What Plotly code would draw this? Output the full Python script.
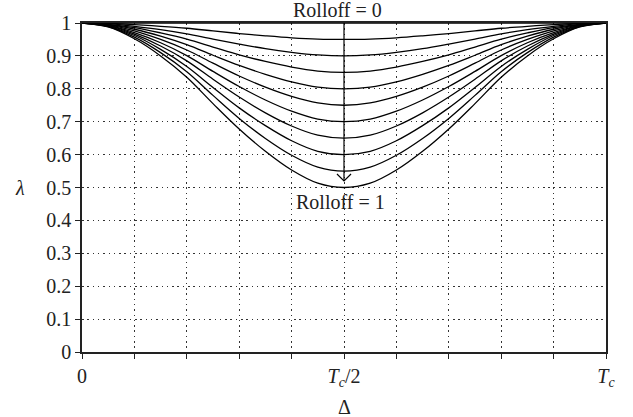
import plotly.graph_objects as go

# delay, in units of Tc
delta = [0.0, 0.05, 0.1, 0.15, 0.2, 0.25, 0.3, 0.35, 0.4, 0.45, 0.5,
         0.55, 0.6, 0.65, 0.7, 0.75, 0.8, 0.85, 0.9, 0.95, 1.0]

rolloffs = [0.0, 0.1, 0.2, 0.3, 0.4, 0.5, 0.6, 0.7, 0.8, 0.9, 1.0]

# lambda, one row per rolloff
lam_r00 = [1.0] * 21
lam_r01 = [1.0, 0.999, 0.995, 0.990, 0.984, 0.976, 0.968, 0.961, 0.955, 0.951, 0.950,
           0.951, 0.955, 0.961, 0.968, 0.976, 0.984, 0.990, 0.995, 0.999, 1.0]
lam_r02 = [1.0, 0.998, 0.990, 0.980, 0.967, 0.951, 0.936, 0.922, 0.911, 0.903, 0.900,
           0.903, 0.911, 0.922, 0.936, 0.951, 0.967, 0.980, 0.990, 0.998, 1.0]
lam_r03 = [1.0, 0.996, 0.986, 0.970, 0.951, 0.927, 0.903, 0.883, 0.866, 0.854, 0.850,
           0.854, 0.866, 0.883, 0.903, 0.927, 0.951, 0.970, 0.986, 0.996, 1.0]
lam_r04 = [1.0, 0.995, 0.981, 0.960, 0.934, 0.902, 0.871, 0.844, 0.821, 0.805, 0.800,
           0.805, 0.821, 0.844, 0.871, 0.902, 0.934, 0.960, 0.981, 0.995, 1.0]
lam_r05 = [1.0, 0.994, 0.976, 0.950, 0.918, 0.878, 0.839, 0.805, 0.777, 0.757, 0.750,
           0.757, 0.777, 0.805, 0.839, 0.878, 0.918, 0.950, 0.976, 0.994, 1.0]
lam_r06 = [1.0, 0.993, 0.971, 0.940, 0.901, 0.853, 0.807, 0.766, 0.732, 0.708, 0.700,
           0.708, 0.732, 0.766, 0.807, 0.853, 0.901, 0.940, 0.971, 0.993, 1.0]
lam_r07 = [1.0, 0.992, 0.966, 0.930, 0.885, 0.829, 0.775, 0.727, 0.687, 0.659, 0.650,
           0.659, 0.687, 0.727, 0.775, 0.829, 0.885, 0.930, 0.966, 0.992, 1.0]
lam_r08 = [1.0, 0.990, 0.962, 0.920, 0.868, 0.804, 0.742, 0.688, 0.642, 0.610, 0.600,
           0.610, 0.642, 0.688, 0.742, 0.804, 0.868, 0.920, 0.962, 0.990, 1.0]
lam_r09 = [1.0, 0.989, 0.957, 0.910, 0.852, 0.780, 0.710, 0.649, 0.598, 0.562, 0.550,
           0.562, 0.598, 0.649, 0.710, 0.780, 0.852, 0.910, 0.957, 0.989, 1.0]
lam_r10 = [1.0, 0.988, 0.952, 0.900, 0.835, 0.755, 0.678, 0.610, 0.553, 0.513, 0.500,
           0.513, 0.553, 0.610, 0.678, 0.755, 0.835, 0.900, 0.952, 0.988, 1.0]

curves = [lam_r00, lam_r01, lam_r02, lam_r03, lam_r04, lam_r05,
          lam_r06, lam_r07, lam_r08, lam_r09, lam_r10]

x_ticks = [0.0, 0.1, 0.2, 0.3, 0.4, 0.5, 0.6, 0.7, 0.8, 0.9, 1.0]
x_labels = ["0", "", "", "", "", "<i>T<sub>c</sub></i>/2", "", "", "", "", "<i>T<sub>c</sub></i>"]
y_ticks = [0.0, 0.1, 0.2, 0.3, 0.4, 0.5, 0.6, 0.7, 0.8, 0.9, 1.0]
y_labels = ["0", "0.1", "0.2", "0.3", "0.4", "0.5", "0.6", "0.7", "0.8", "0.9", "1"]

fonte = "Liberation Serif, Times New Roman, DejaVu Serif, serif"
cor_texto = "#222"

fig = go.Figure()

for r, lam in zip(rolloffs, curves):
    fig.add_trace(go.Scatter(
        x=delta, y=lam, mode="lines", name="Rolloff = %g" % r,
        line=dict(color="black", width=1.3, shape="spline", smoothing=1.0),
        showlegend=False
    ))

# seta de rolloff 0 ate rolloff 1
fig.add_shape(type="line", x0=0.5, x1=0.5, y0=1.0, y1=0.52,
              line=dict(color="black", width=1.2))
fig.add_shape(type="path", path="M 0.4866,0.541 L 0.5,0.52 L 0.5134,0.541",
              line=dict(color="black", width=1.2))

fig.add_annotation(x=0.5, y=1.0, text="Rolloff = 0", showarrow=False,
                   xshift=-7, yshift=13, font=dict(size=20, family=fonte, color=cor_texto))
fig.add_annotation(x=0.5, y=0.455, text="Rolloff = 1", showarrow=False,
                   xshift=-4, font=dict(size=20, family=fonte, color=cor_texto))
fig.add_annotation(x=0, xref="paper", y=0.5, yref="paper", text="<i>λ</i>",
                   showarrow=False, xanchor="center", yanchor="middle", xshift=-62,
                   font=dict(size=20, family=fonte, color=cor_texto))
fig.add_annotation(x=0.5, xref="paper", y=0, yref="paper", text="Δ",
                   showarrow=False, xanchor="center", yanchor="middle", yshift=-55,
                   font=dict(size=20, family=fonte, color=cor_texto))

eixo = dict(
    range=[0, 1],
    showgrid=True, gridcolor="#333", gridwidth=1, griddash="1.5px,3.8px",
    showline=True, linecolor="#222", linewidth=1.6, mirror=True,
    ticks="outside", ticklen=5, tickcolor="#222", zeroline=False,
    tickfont=dict(size=20, family=fonte, color=cor_texto)
)

fig.update_xaxes(tickvals=x_ticks, ticktext=x_labels, **eixo)
fig.update_yaxes(tickvals=y_ticks, ticktext=y_labels, **eixo)

fig.update_layout(
    width=633, height=417,
    margin=dict(l=82, r=27, t=23, b=65),
    plot_bgcolor="white", paper_bgcolor="white",
    font=dict(family=fonte, size=20, color=cor_texto)
)

# tira a margem padrao do body para o grafico ocupar a janela toda
fig.write_html("out.html", config={"displayModeBar": False},
               post_script="document.body.style.margin='0px';")
